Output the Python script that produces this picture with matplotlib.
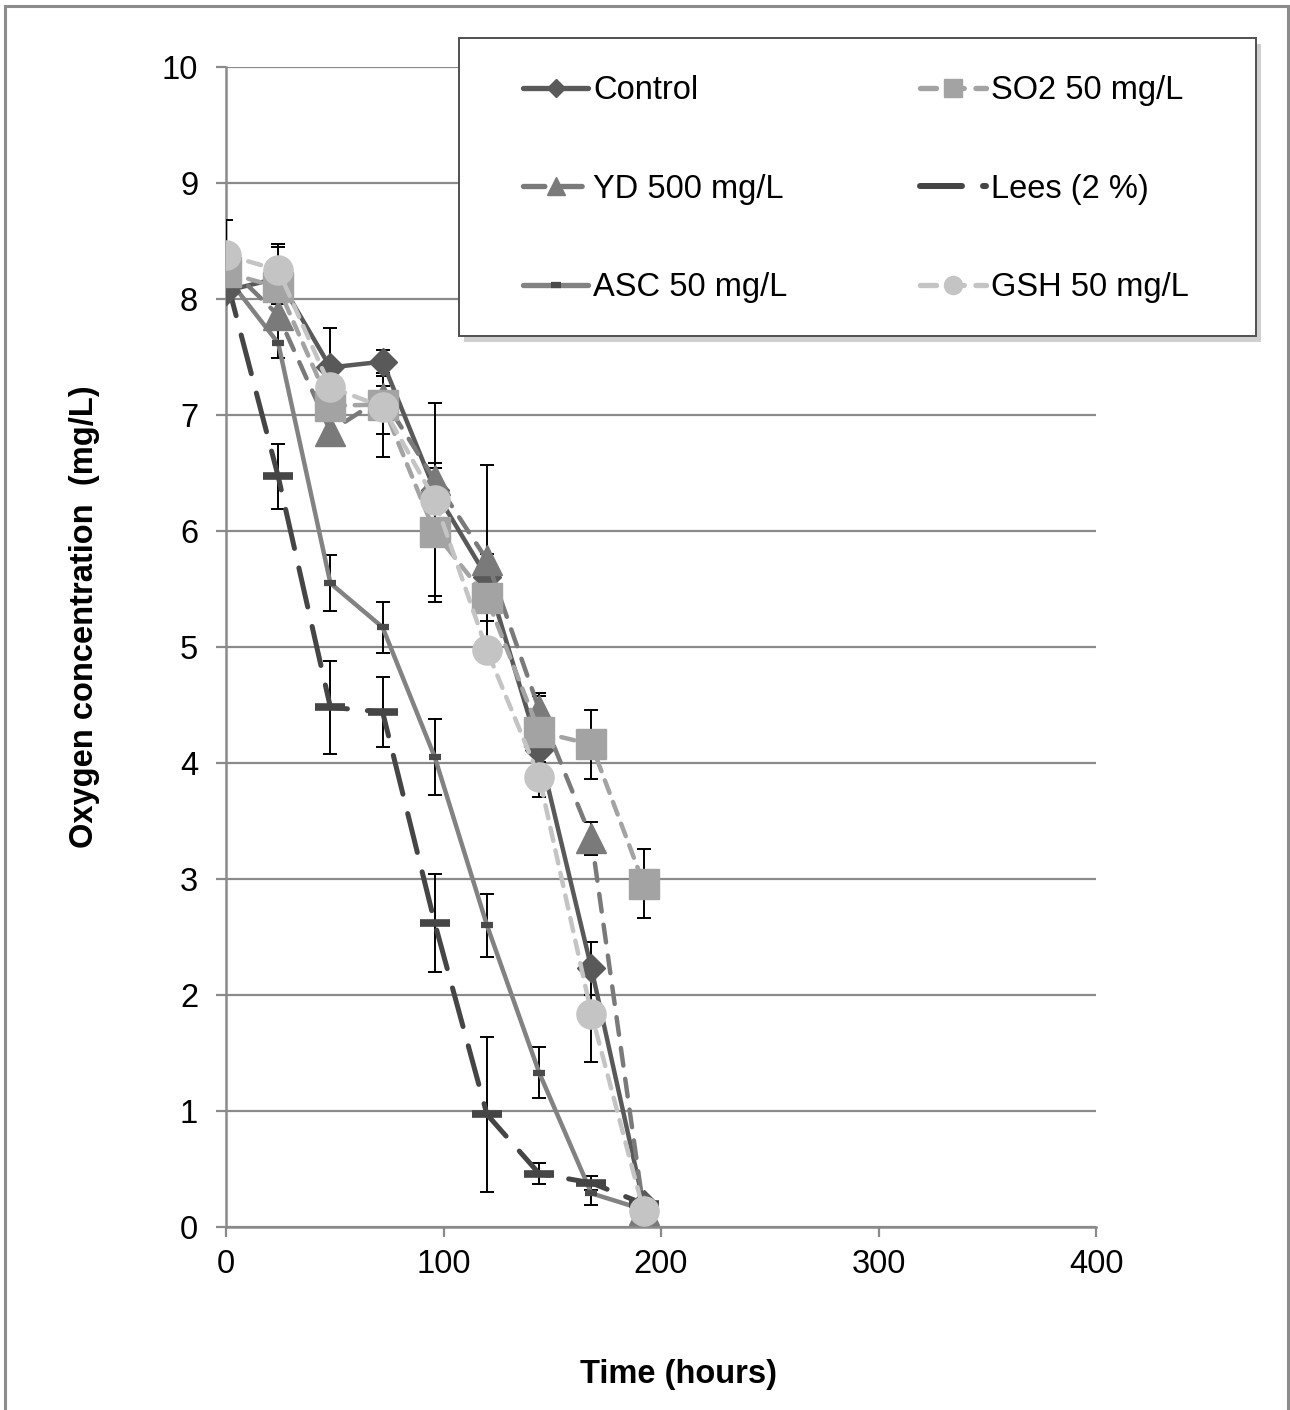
import matplotlib
matplotlib.use("Agg")
import matplotlib.pyplot as plt
from matplotlib.lines import Line2D
from matplotlib.patches import Rectangle

plt.rcParams['font.family'] = ['Liberation Sans', 'DejaVu Sans']

# Sampling times (hours)
time_h = [0, 24, 48, 72, 96, 120, 144, 168, 192]

# Dissolved oxygen (mg/L) per treatment
control = [8.07, 8.18, 7.41, 7.46, 6.35, 5.60, 4.11, 2.23, 0.20]
so2 = [8.23, 8.10, 7.08, 7.09, 5.99, 5.42, 4.27, 4.16, 2.96]
yd = [8.30, 7.86, 6.86, 7.15, 6.44, 5.75, 4.46, 3.35, 0.15]
lees = [8.19, 6.47, 4.48, 4.44, 2.62, 0.97, 0.46, 0.38, 0.20]
asc = [8.20, 7.62, 5.55, 5.17, 4.05, 2.60, 1.33, 0.29, 0.15]
gsh = [8.38, 8.25, 7.24, 7.07, 6.27, 4.97, 3.88, 1.84, 0.14]

# Standard deviations
control_sd = [0.05, 0.10, 0.34, 0.10, 0.10, 0.20, 0.10, 0.23, 0.05]
so2_sd = [0.05, 0.35, 0.10, 0.25, 0.60, 0.20, 0.31, 0.30, 0.30]
yd_sd = [0.05, 0.10, 0.12, 0.10, 0.10, 0.82, 0.14, 0.14, 0.05]
lees_sd = [0.03, 0.28, 0.40, 0.30, 0.42, 0.67, 0.09, 0.06, 0.03]
asc_sd = [0.03, 0.13, 0.24, 0.22, 0.33, 0.27, 0.22, 0.10, 0.03]
gsh_sd = [0.30, 0.22, 0.10, 0.43, 0.83, 0.10, 0.17, 0.42, 0.05]

labels = ["Control", "SO2 50 mg/L", "YD 500 mg/L", "Lees (2 %)", "ASC 50 mg/L", "GSH 50 mg/L"]

W, H = 1290, 1410
fig = plt.figure(figsize=(W / 100, H / 100), dpi=100)
ax = fig.add_axes([226 / W, 1 - 1227 / H, (1096 - 226) / W, (1227 - 67) / H])

grid_c = '#8a8a8a'
FS = 23.5

# Outer chart frame
fig.patches.append(Rectangle((5 / W, -0.02), (1288 - 5) / W, 1.02 - 6 / H,
                             transform=fig.transFigure, fill=False,
                             edgecolor='#8c8c8c', linewidth=2.2, zorder=0))

err_kw = dict(ecolor='black', elinewidth=1.4, capsize=5, capthick=1.4, zorder=6)

def draw(y, sd, color, ls, marker, ms, mfc, mec, lw, label, z, mew=1.0, dashes=None):
    ax.errorbar(time_h, y, yerr=sd, fmt='none', **err_kw)
    kw = dict(color=color, linewidth=lw, marker=marker, markersize=ms,
              markerfacecolor=mfc, markeredgecolor=mec, markeredgewidth=mew,
              label=label, zorder=z, dash_capstyle='round', solid_capstyle='round')
    if dashes is not None:
        kw['dashes'] = dashes
    else:
        kw['linestyle'] = ls
    return ax.plot(time_h, y, **kw)[0]

h_ctrl = draw(control, control_sd, '#595959', '-', 'D', 14, '#595959', '#595959', 3.2, labels[0], 8)
h_asc = draw(asc, asc_sd, '#828282', '-', '_', 9, '#4a4a4a', '#4a4a4a', 3.2, labels[4], 7, mew=4.5)
h_lees = draw(lees, lees_sd, '#454545', '-', '_', 21, '#454545', '#454545', 3.6, labels[3], 7,
              mew=5.5, dashes=(8, 4))
h_yd = draw(yd, yd_sd, '#7a7a7a', '-', '^', 21, '#7a7a7a', '#7a7a7a', 3.2, labels[2], 9,
            dashes=(4, 3))
h_so2 = draw(so2, so2_sd, '#a3a3a3', '-', 's', 21, '#a3a3a3', '#a3a3a3', 3.2, labels[1], 9,
             dashes=(3, 2.2))
h_gsh = draw(gsh, gsh_sd, '#c4c4c4', '-', 'o', 21, '#c4c4c4', '#c4c4c4', 3.2, labels[5], 10,
             dashes=(3, 2.2))

ax.set_xlim(0, 400)
ax.set_ylim(0, 10)
ax.set_xticks([0, 100, 200, 300, 400])
ax.set_yticks(range(0, 11))
ax.yaxis.grid(True, color=grid_c, linewidth=1.6)
ax.set_axisbelow(True)
for s in ['top', 'right']:
    ax.spines[s].set_visible(False)
for s in ['left', 'bottom']:
    ax.spines[s].set_color(grid_c)
    ax.spines[s].set_linewidth(1.8)
ax.tick_params(axis='both', colors=grid_c, labelcolor='black', labelsize=FS,
               length=7, width=1.6, direction='out')
ax.tick_params(axis='y', pad=13)
ax.tick_params(axis='x', pad=9)

fig.text(678 / W, 1 - 1375 / H, "Time (hours)", ha='center', va='center',
         fontsize=FS, fontweight='bold')
fig.text(85 / W, 1 - 617 / H, "Oxygen concentration  (mg/L)", ha='center', va='center',
         rotation=90, fontsize=FS, fontweight='bold')

# Legend box with drop shadow
lx0, ly0, lx1, ly1 = 459, 38, 1256, 336
fig.patches.append(Rectangle(((lx0 + 5) / W, 1 - (ly1 + 6) / H), (lx1 - lx0) / W, (ly1 - ly0) / H,
                             transform=fig.transFigure, facecolor='#b0b0b0', edgecolor='none',
                             alpha=0.6, zorder=20))
fig.patches.append(Rectangle((lx0 / W, 1 - ly1 / H), (lx1 - lx0) / W, (ly1 - ly0) / H,
                             transform=fig.transFigure, facecolor='white', edgecolor='#505050',
                             linewidth=1.4, zorder=21))

def legend_handle(h, ms, dashes=None):
    ln = Line2D([0], [0], color=h.get_color(), linewidth=h.get_linewidth() * 1.2,
                marker=h.get_marker(), markersize=ms,
                markerfacecolor=h.get_markerfacecolor(), markeredgecolor=h.get_markeredgecolor(),
                markeredgewidth=h.get_markeredgewidth(), dash_capstyle='round',
                solid_capstyle='round')
    if dashes is not None:
        ln.set_dashes(dashes)
    return ln

handles = [legend_handle(h_ctrl, 9),
           legend_handle(h_yd, 13, (4, 3)),
           legend_handle(h_asc, 7),
           legend_handle(h_so2, 13, (3, 2.2)),
           legend_handle(h_lees, 0, (7, 3.5)),
           legend_handle(h_gsh, 13, (3, 2.2))]
names = [labels[0], labels[2], labels[4], labels[1], labels[3], labels[5]]
leg = fig.legend(handles, names, ncol=2, loc='upper left',
                 bbox_to_anchor=(523 / W, 1 - 75 / H), frameon=False, fontsize=FS,
                 handlelength=2.0, handletextpad=0.15, columnspacing=4.07,
                 labelspacing=2.07, borderpad=0, borderaxespad=0)
leg.set_zorder(22)

fig.savefig("out.png", dpi=100)
